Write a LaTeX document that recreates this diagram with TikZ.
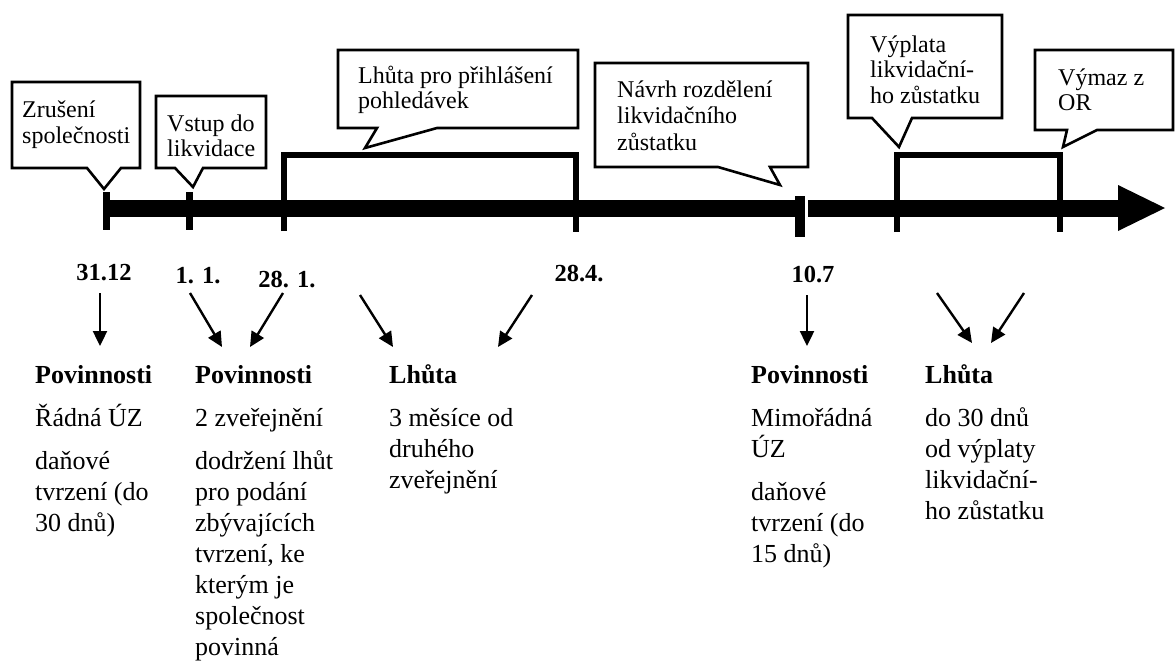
\documentclass[tikz,border=0pt]{standalone}
\usepackage{fontspec}
\setmainfont{Liberation Serif}
\usetikzlibrary{arrows.meta}
\begin{document}
\begin{tikzpicture}[x=1pt,y=-1pt,
  callout/.style={draw=black, line width=2.6pt, fill=white, line join=miter},
  txt/.style={anchor=base west, inner sep=0pt, font=\fontsize{24}{25.5}\selectfont},
  ltxt/.style={anchor=base west, inner sep=0pt, font=\fontsize{26}{31}\selectfont},
  btxt/.style={anchor=base west, inner sep=0pt, font=\fontsize{26}{31}\selectfont\bfseries},
  datelbl/.style={anchor=base, inner sep=0pt, font=\fontsize{24.5}{26}\selectfont\bfseries},
  pointer/.style={line width=2.4pt, -{Triangle[length=15pt,width=14pt]}},
  bracketline/.style={line width=6pt, line join=miter}
]
\useasboundingbox (0,0) rectangle (1176,664);

% ---------- timeline ----------
\fill (103,199.5) rectangle (1120,216.5);
\fill (1118,185) -- (1165,208) -- (1118,231) -- cycle;
\fill (103,192) rectangle (110,230);
\fill (185.5,192) rectangle (192.5,230);
\draw[bracketline] (284,231) -- (284,155) -- (576,155) -- (576,232);
\fill (795,196) rectangle (805,237);
\fill[white] (805,199) rectangle (807.5,217.5);
\draw[bracketline] (897,232) -- (897,154.5) -- (1060,154.5) -- (1060,232);

% ---------- callouts ----------
\draw[callout] (12,82) -- (140,82) -- (140,168) -- (121,168) -- (104,189) -- (87,168) -- (12,168) -- cycle;
\node[txt] (z1) at (22,117) {Zrušení};
\node[txt] (z2) at (22,143) {společnosti};

\draw[callout] (156,96) -- (266,96) -- (266,168) -- (203,168) -- (193,187) -- (175,168) -- (156,168) -- cycle;
\node[txt] (v1) at (167,131) {Vstup do};
\node[txt] (v2) at (167,156) {likvidace};

\draw[callout] (338,50) -- (578,50) -- (578,128) -- (437,128) -- (365,148) -- (377,128) -- (338,128) -- cycle;
\node[txt] (l1) at (358,83) {Lhůta pro přihlášení};
\node[txt] (l2) at (358,108) {pohledávek};

\draw[callout] (595,63) -- (808,63) -- (808,167) -- (770,167) -- (780,185) -- (718,167) -- (595,167) -- cycle;
\node[txt] (n1) at (617,97) {Návrh rozdělení};
\node[txt] (n2) at (617,123) {likvidačního};
\node[txt] (n3) at (617,150) {zůstatku};

\draw[callout] (848,15) -- (1002,15) -- (1002,118) -- (912,118) -- (899,147) -- (872,118) -- (848,118) -- cycle;
\node[txt] (p1) at (870,52) {Výplata};
\node[txt] (p2) at (870,77) {likvidační-};
\node[txt] (p3) at (870,103) {ho zůstatku};

\draw[callout] (1035,50) -- (1173,50) -- (1173,130) -- (1097,130) -- (1063,147) -- (1067,130) -- (1035,130) -- cycle;
\node[txt] (m1) at (1058,85) {Výmaz z};
\node[txt] (m2) at (1058,110) {OR};

% ---------- dates ----------
\node[datelbl] (d1) at (104,280) {31.12};
\node[datelbl] (d2) at (198,283) {1. 1.};
\node[datelbl] (d3) at (287,287) {28. 1.};
\node[datelbl] (d4) at (579,281) {28.4.};
\node[datelbl] (d5) at (813,282) {10.7};

% ---------- arrows ----------
\coordinate (a1s) at (100,293);  \coordinate (a1e) at (100,346);
\coordinate (a2s) at (190,293);  \coordinate (a2e) at (222,347);
\coordinate (a3s) at (283,293);  \coordinate (a3e) at (250,347);
\coordinate (a4s) at (360,295);  \coordinate (a4e) at (393,347);
\coordinate (a5s) at (532,295);  \coordinate (a5e) at (498,347);
\coordinate (a6s) at (807,295);  \coordinate (a6e) at (807,346);
\coordinate (a7s) at (937,293);  \coordinate (a7e) at (972,343);
\coordinate (a8s) at (1024,293); \coordinate (a8e) at (991,343);
\draw[pointer] (a1s) -- (a1e);
\draw[pointer] (a2s) -- (a2e);
\draw[pointer] (a3s) -- (a3e);
\draw[pointer] (a4s) -- (a4e);
\draw[pointer] (a5s) -- (a5e);
\draw[pointer] (a6s) -- (a6e);
\draw[pointer] (a7s) -- (a7e);
\draw[pointer] (a8s) -- (a8e);

% ---------- lower texts ----------
\node[btxt] (c1h) at (35,383) {Povinnosti};
\node[ltxt] (c1a) at (35,426) {Řádná ÚZ};
\node[ltxt] (c1b) at (35,469) {daňové};
\node[ltxt] (c1c) at (35,500) {tvrzení (do};
\node[ltxt] (c1d) at (35,531) {30 dnů)};

\node[btxt] (c2h) at (195,383) {Povinnosti};
\node[ltxt] (c2a) at (195,426) {2 zveřejnění};
\node[ltxt] (c2b) at (195,469) {dodržení lhůt};
\node[ltxt] (c2c) at (195,500) {pro podání};
\node[ltxt] (c2d) at (195,531) {zbývajících};
\node[ltxt] (c2e) at (195,562) {tvrzení, ke};
\node[ltxt] (c2f) at (195,593) {kterým je};
\node[ltxt] (c2g) at (195,624) {společnost};
\node[ltxt] (c2i) at (195,655) {povinná};

\node[btxt] (c3h) at (389,383) {Lhůta};
\node[ltxt] (c3a) at (389,426) {3 měsíce od};
\node[ltxt] (c3b) at (389,457) {druhého};
\node[ltxt] (c3c) at (389,488) {zveřejnění};

\node[btxt] (c4h) at (751,383) {Povinnosti};
\node[ltxt] (c4a) at (751,426) {Mimořádná};
\node[ltxt] (c4b) at (751,457) {ÚZ};
\node[ltxt] (c4c) at (751,500) {daňové};
\node[ltxt] (c4d) at (751,531) {tvrzení (do};
\node[ltxt] (c4e) at (751,562) {15 dnů)};

\node[btxt] (c5h) at (925,383) {Lhůta};
\node[ltxt] (c5a) at (925,426) {do 30 dnů};
\node[ltxt] (c5b) at (925,457) {od výplaty};
\node[ltxt] (c5c) at (925,488) {likvidační-};
\node[ltxt] (c5d) at (925,519) {ho zůstatku};
\end{tikzpicture}
\end{document}
